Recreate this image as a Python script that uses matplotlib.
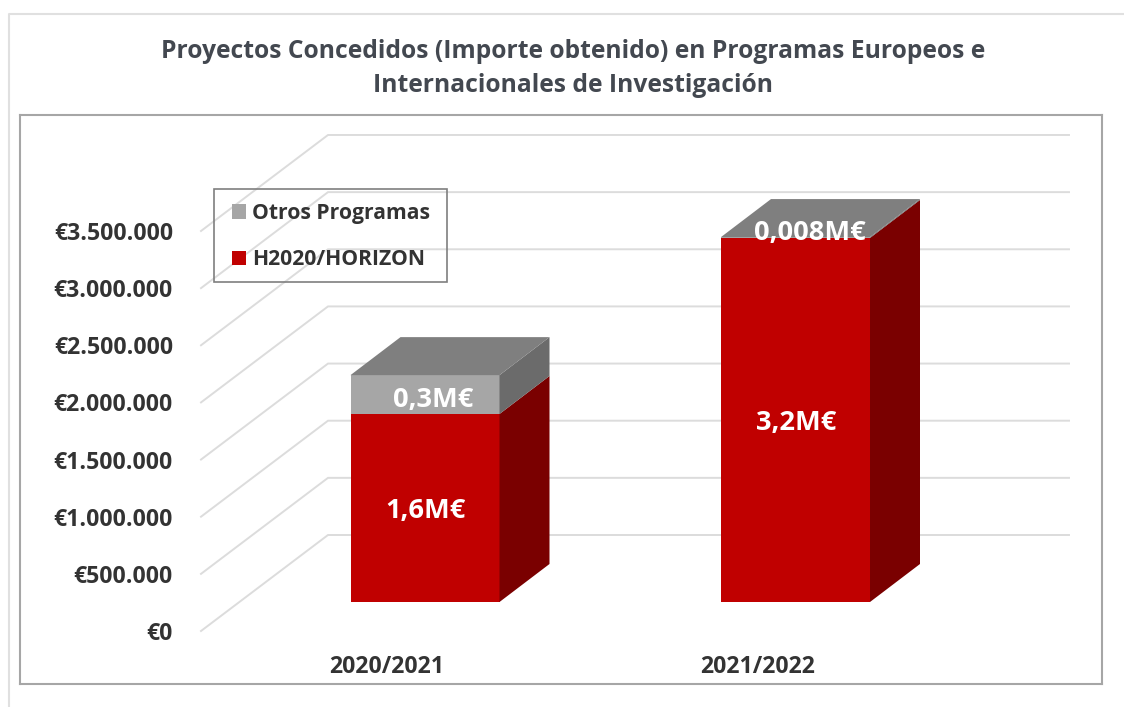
import matplotlib.pyplot as plt
from matplotlib.patches import Polygon, Patch, Rectangle
from matplotlib.lines import Line2D

plt.rcParams['font.family'] = ['Open Sans', 'DejaVu Sans']

# Data (euros)
years = ["2020/2021", "2021/2022"]
h2020 = [1645000, 3185000]
otros = [340000, 8000]
h2020_labels = ["1,6M€", "3,2M€"]
otros_labels = ["0,3M€", "0,008M€"]
y_ticks = [0, 500000, 1000000, 1500000, 2000000, 2500000, 3000000, 3500000]
y_tick_labels = ["€0", "€500.000", "€1.000.000", "€1.500.000", "€2.000.000",
                 "€2.500.000", "€3.000.000", "€3.500.000"]
title = "Proyectos Concedidos (Importe obtenido) en Programas Europeos e\nInternacionales de Investigación"

W, H = 1124, 707
PX_X = 370.5             # pixels per category
PX_Y = 114.29 / 1e6      # pixels per euro


def xpx(px):
    return px / PX_X


def ypx(px):
    return px / PX_Y


fig = plt.figure(figsize=(W / 100, H / 100), dpi=100)
fig.patch.set_facecolor("white")

# Thin outer border of the slide
fig.add_artist(Line2D([8.5 / W, 8.5 / W, 1], [0, 1 - 14 / H, 1 - 14 / H], color="#E0E0E0", lw=1.5))

ax = fig.add_axes([20 / W, 1 - 684 / H, (1102 - 20) / W, (684 - 115) / H])
ax.set_xlim(xpx(20 - 425), xpx(1102 - 425))
ax.set_ylim(ypx(631 - 684), ypx(631 - 115))
for s in ax.spines.values():
    s.set_color("#A6A6A6")
    s.set_linewidth(1.5)

# Floor / wall grid in false perspective
wall_x0 = xpx(201 - 425)
wall_x1 = xpx(328 - 425)
wall_x2 = xpx(1069 - 425)
wall_dy = ypx(96)
for v in y_ticks:
    ax.plot([wall_x0, wall_x1, wall_x2], [v, v + wall_dy, v + wall_dy],
            color="#DCDCDC", lw=1.4, zorder=1, solid_joinstyle="miter")

# Bars
bar_w = xpx(149)
base = ypx(631 - 602)
dx = xpx(50)
dy = ypx(38)
for i in range(len(years)):
    xl = i - bar_w / 2
    xr = i + bar_w / 2
    b0 = base
    b1 = base + h2020[i]
    b2 = b1 + otros[i]
    ax.bar(i, h2020[i], bottom=b0, width=bar_w, color="#C00000", zorder=3)
    ax.bar(i, otros[i], bottom=b1, width=bar_w, color="#A6A6A6", zorder=3)
    ax.add_patch(Polygon([(xr, b0), (xr + dx, b0 + dy), (xr + dx, b1 + dy), (xr, b1)],
                         closed=True, fc="#7A0000", ec="none", zorder=3))
    ax.add_patch(Polygon([(xr, b1), (xr + dx, b1 + dy), (xr + dx, b2 + dy), (xr, b2)],
                         closed=True, fc="#6B6B6B", ec="none", zorder=3))
    ax.add_patch(Polygon([(xl, b2), (xl + dx, b2 + dy), (xr + dx, b2 + dy), (xr, b2)],
                         closed=True, fc="#7F7F7F", ec="none", zorder=3))

    ax.annotate(h2020_labels[i], (i, b0 + h2020[i] / 2), xytext=(0.5, -2.5),
                textcoords="offset points", color="white", fontsize=19.6,
                fontweight="bold", ha="center", va="center", zorder=5)

ax.annotate(otros_labels[0], (0, base + h2020[0] + otros[0] / 2), xytext=(6, -3.7),
            textcoords="offset points", color="white", fontsize=19.6,
            fontweight="bold", ha="center", va="center", zorder=5)
ax.annotate(otros_labels[1], (1, base + h2020[1] + otros[1] / 2), xytext=(10, 3),
            textcoords="offset points", color="white", fontsize=19.6,
            fontweight="bold", ha="center", va="center", zorder=5)

# Axis labels sit inside the frame
ax.set_yticks(y_ticks)
ax.set_yticklabels(y_tick_labels, fontsize=16.7, fontweight="bold", color="#333333")
ax.tick_params(axis="y", length=0, pad=-(173 - 20) * 0.72)
ax.set_xticks([i - xpx(38) for i in range(len(years))])
ax.set_xticklabels(years, fontsize=16.6, fontweight="bold", color="#333333")
ax.tick_params(axis="x", length=0, pad=-(684 - 655) * 0.72)

# Legend, with its box drawn separately so the padding can differ per side
fig.add_artist(Rectangle((214 / W, 1 - 282 / H), 233 / W, 93 / H, fc="none", ec="#7F7F7F", lw=1.2))
handles = [Patch(fc="#A6A6A6", ec="none", label="Otros Programas"),
           Patch(fc="#C00000", ec="none", label="H2020/HORIZON")]
leg = ax.legend(handles=handles, loc="upper left", bbox_to_anchor=(232 / W, 1 - 203 / H),
                bbox_transform=fig.transFigure, fontsize=15.2, frameon=False,
                handlelength=0.66, handleheight=0.66,
                handletextpad=0.3, labelspacing=1.2, borderpad=0, borderaxespad=0)
for t, c in zip(leg.get_texts(), ["#333333", "#333333"]):
    t.set_fontweight("bold")
    t.set_color(c)

fig.text(573 / W, 1 - 68.5 / H, title, fontsize=17.7, fontweight="bold", color="#434850",
         ha="center", va="center", linespacing=1.49)

fig.savefig("out.png", dpi=100)
